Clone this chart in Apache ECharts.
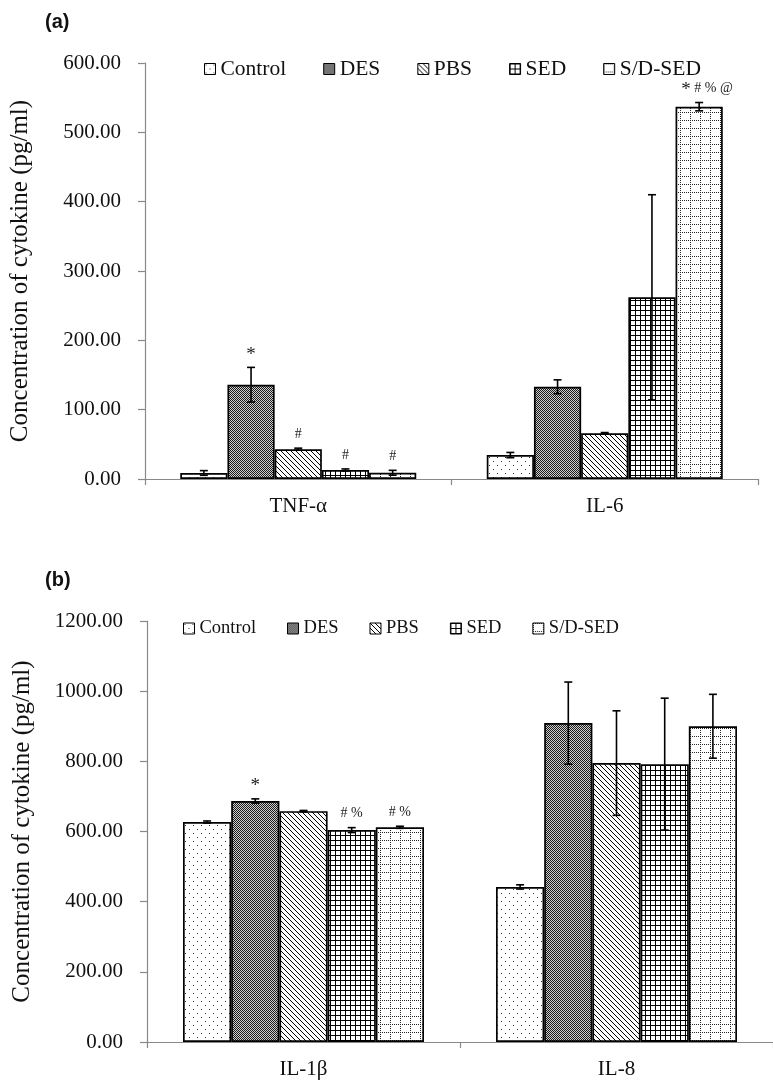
<!DOCTYPE html>
<html><head><meta charset="utf-8">
<script src="https://cdn.jsdelivr.net/npm/echarts@6/dist/echarts.min.js"></script>
<style>html,body{margin:0;padding:0;background:#fff}#c{width:773px;height:1082px}</style>
</head><body><div id="c"></div>
<script>
// ---- data ----
const groups = ['Control', 'DES', 'PBS', 'SED', 'S/D-SED'];
const catsA = ['TNF-α', 'IL-6'];
const catsB = ['IL-1β', 'IL-8'];
const ticksA = [0, 100, 200, 300, 400, 500, 600];
const ticksB = [0, 200, 400, 600, 800, 1000, 1200];

const controlA = [8.7, 34.5];
const desA = [136, 133];
const pbsA = [43, 66];
const sedA = [13, 262];
const sdsedA = [9, 537];
const controlAErr = [3.4, 3.8];
const desAErr = [25, 10];
const pbsAErr = [1.5, 1];
const sedAErr = [1.5, 148];
const sdsedAErr = [3.5, 6];
const controlAnnA = ['', ''];
const desAnnA = ['*', ''];
const pbsAnnA = ['#', ''];
const sedAnnA = ['#', ''];
const sdsedAnnA = ['#', '* # % @'];

const controlB = [627, 442];
const desB = [687, 909];
const pbsB = [658, 795];
const sedB = [604, 792];
const sdsedB = [612, 900];
const controlBErr = [3, 6];
const desBErr = [6, 117];
const pbsBErr = [2, 149];
const sedBErr = [7, 188];
const sdsedBErr = [3, 91];
const controlAnnB = ['', ''];
const desAnnB = ['*', ''];
const pbsAnnB = ['', ''];
const sedAnnB = ['# %', ''];
const sdsedAnnB = ['# %', ''];

// ---- patterns ----
function pat(w, h, bg, draw) {
  const c = document.createElement('canvas');
  c.width = w; c.height = h;
  const g = c.getContext('2d');
  g.fillStyle = bg; g.fillRect(0, 0, w, h);
  g.fillStyle = '#000';
  draw(g);
  return { image: c, repeat: 'repeat' };
}
const patterns = [
  pat(8, 8, '#fff', g => { g.fillStyle = '#333'; g.fillRect(1, 1, 1, 1); g.fillRect(5, 5, 1, 1); }),
  pat(2, 2, '#cfcfcf', g => { g.fillStyle = '#1a1a1a'; g.fillRect(0, 0, 1, 1); g.fillRect(1, 1, 1, 1); }),
  pat(5, 5, '#fff', g => { for (let i = 0; i < 5; i++) g.fillRect(i, i, 1, 1); }),
  pat(5, 5, '#fff', g => { g.fillRect(0, 0, 5, 1); g.fillRect(0, 0, 1, 5); }),
  pat(10, 8, '#fff', g => { g.fillStyle = '#222'; for (let i = 0; i < 10; i += 2) g.fillRect(i, 0, 1, 1); for (let j = 0; j < 8; j += 2) g.fillRect(0, j, 1, 1); })
];

const GAP = 0.23;
const FONT = '"Liberation Serif", "Times New Roman", serif';

function barSeries(name, idx, data, xi) {
  return {
    type: 'bar', name: name, xAxisIndex: xi, yAxisIndex: xi, data: data,
    barGap: '0%', barCategoryGap: (GAP * 100) + '%',
    itemStyle: { color: patterns[idx], borderColor: '#000', borderWidth: 1.7 },
    emphasis: { disabled: true }, animation: false
  };
}

function errSeries(xi, vals, errs, anns) {
  const data = [], labels = [];
  for (let s = 0; s < 5; s++) {
    for (let c = 0; c < vals[s].length; c++) {
      data.push([c, vals[s][c], errs[s][c], s]);
      labels.push(anns[s][c]);
    }
  }
  return {
    type: 'custom', xAxisIndex: xi, yAxisIndex: xi, z: 10, animation: false, silent: true,
    data: data,
    renderItem: function (params, api) {
      const c = api.value(0), v = api.value(1), e = api.value(2), s = api.value(3);
      const catW = api.size([1, 0])[0];
      const bw = catW * (1 - GAP) / 5;
      const x = api.coord([c, v])[0] + (s - 2) * bw;
      const yt = api.coord([c, v + e])[1];
      const yb = api.coord([c, v - e])[1];
      const cap = 4;
      const st = { stroke: '#000', lineWidth: 1.6 };
      const children = [
        { type: 'line', shape: { x1: x, y1: yt, x2: x, y2: yb }, style: st },
        { type: 'line', shape: { x1: x - cap, y1: yt, x2: x + cap, y2: yt }, style: st },
        { type: 'line', shape: { x1: x - cap, y1: yb, x2: x + cap, y2: yb }, style: st }
      ];
      const lab = labels[params.dataIndex];
      if (lab) {
        let txt = lab;
        let dx = 0;
        if (lab.length > 1 && lab[0] === '*') { txt = '{s|*} ' + lab.slice(2); dx = 8; }
        else if (lab === '*') { txt = '{s|*}'; }
        children.push({
          type: 'text', x: x + dx, y: yt - 7,
          style: {
            text: txt, align: 'center', verticalAlign: 'bottom',
            fontFamily: FONT, fontSize: 14, fill: '#222',
            rich: { s: { fontSize: 19, fontFamily: FONT, fill: '#222', verticalAlign: 'bottom', padding: [0, 0, -4, 0] } }
          }
        });
      }
      return { type: 'group', children: children };
    }
  };
}

function xAxisCfg(gi, cats) {
  return {
    type: 'category', gridIndex: gi, data: cats,
    axisLine: { lineStyle: { color: '#898989', width: 1.2 } },
    axisTick: { show: true, length: 6, lineStyle: { color: '#898989', width: 1.2 } },
    axisLabel: { color: '#111', fontFamily: FONT, fontSize: 21, margin: 17 }
  };
}
function yAxisCfg(gi, ticks) {
  return {
    type: 'value', gridIndex: gi,
    min: ticks[0], max: ticks[ticks.length - 1], interval: ticks[1] - ticks[0],
    name: 'Concentration of cytokine (pg/ml)', nameLocation: 'middle', nameGap: 112,
    nameTextStyle: { color: '#111', fontFamily: FONT, fontSize: 25 },
    axisLine: { show: true, lineStyle: { color: '#898989', width: 1.2 } },
    axisTick: { show: true, length: 7, lineStyle: { color: '#898989', width: 1.2 } },
    splitLine: { show: false },
    axisLabel: { color: '#111', fontFamily: FONT, fontSize: 21, margin: 24, formatter: v => v.toFixed(2) }
  };
}

const valsA = [controlA, desA, pbsA, sedA, sdsedA];
const errsA = [controlAErr, desAErr, pbsAErr, sedAErr, sdsedAErr];
const annsA = [controlAnnA, desAnnA, pbsAnnA, sedAnnA, sdsedAnnA];
const valsB = [controlB, desB, pbsB, sedB, sdsedB];
const errsB = [controlBErr, desBErr, pbsBErr, sedBErr, sdsedBErr];
const annsB = [controlAnnB, desAnnB, pbsAnnB, sedAnnB, sdsedAnnB];

const series = [];
groups.forEach((g, i) => series.push(barSeries(g, i, valsA[i], 0)));
groups.forEach((g, i) => series.push(barSeries(g, i, valsB[i], 1)));
series.push(errSeries(0, valsA, errsA, annsA));
series.push(errSeries(1, valsB, errsB, annsB));

const chart = echarts.init(document.getElementById('c'), null, { renderer: 'canvas' });
chart.setOption({
  backgroundColor: '#fff',
  animation: false,
  title: [
    { text: '(a)', left: 40, top: 7, textStyle: { fontFamily: '"Liberation Sans", Arial, sans-serif', fontWeight: 'bold', fontSize: 20, color: '#111' } },
    { text: '(b)', left: 40, top: 565, textStyle: { fontFamily: '"Liberation Sans", Arial, sans-serif', fontWeight: 'bold', fontSize: 20, color: '#111' } }
  ],
  legend: [
    { data: groups, left: 199, top: 53, itemWidth: 11, itemHeight: 11, itemGap: 37, icon: 'rect',
      itemStyle: { borderColor: '#000', borderWidth: 1 },
      textStyle: { fontFamily: FONT, fontSize: 21.5, color: '#111' }, selectedMode: false },
    { data: groups, left: 178, top: 614, itemWidth: 11, itemHeight: 11, itemGap: 31, icon: 'rect',
      itemStyle: { borderColor: '#000', borderWidth: 1 },
      textStyle: { fontFamily: FONT, fontSize: 18.5, color: '#111' }, selectedMode: false }
  ],
  grid: [
    { left: 145, right: 15, top: 63, height: 416 },
    { left: 147, right: 0, top: 621, height: 421 }
  ],
  xAxis: [xAxisCfg(0, catsA), xAxisCfg(1, catsB)],
  yAxis: [yAxisCfg(0, ticksA), yAxisCfg(1, ticksB)],
  series: series
});
</script></body></html>
